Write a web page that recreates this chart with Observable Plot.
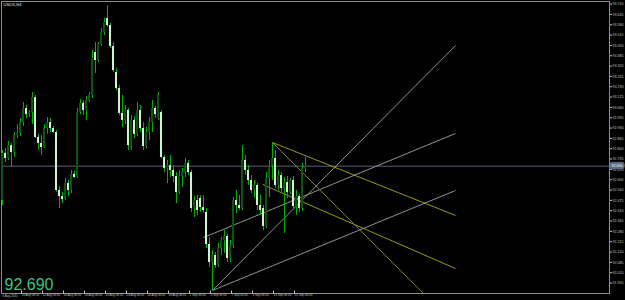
<!DOCTYPE html>
<html><head><meta charset="utf-8">
<script src="https://cdn.jsdelivr.net/npm/d3@7"></script>
<script src="https://cdn.jsdelivr.net/npm/@observablehq/plot@0.6"></script>
<style>html,body{margin:0;padding:0;background:#000;overflow:hidden}#chart{width:625px;height:300px}</style>
</head><body><div id="chart"></div>
<script>
const symbolTitle = "USDX,H4";
const lastPrice = 92.690;

const opens = [92.474,92.770,92.738,92.820,92.776,92.883,92.896,92.965,93.053,93.015,
93.028,93.122,92.871,92.833,92.808,92.927,92.965,92.927,92.902,92.537,
92.499,92.480,92.581,92.537,92.638,92.619,93.028,93.085,93.041,93.103,
93.135,93.405,93.355,93.456,93.531,93.619,93.575,93.443,93.280,93.179,
93.022,92.978,93.041,92.820,92.978,92.890,93.041,92.927,92.814,92.902,
92.965,93.053,92.990,93.028,92.745,92.676,92.694,92.663,92.625,92.525,
92.625,92.650,92.707,92.650,92.424,92.474,92.487,92.430,92.399,92.197,
92.084,92.128,92.065,92.172,92.222,92.248,92.109,92.191,92.474,92.443,
92.424,92.726,92.663,92.600,92.537,92.569,92.443,92.424,92.311,92.613,
92.694,92.738,92.569,92.631,92.550,92.587,92.525,92.600,92.436,92.499,
92.424,92.676];
const highs = [92.789,92.801,92.845,92.833,92.902,92.952,92.990,93.091,93.072,93.041,
93.154,93.135,92.890,92.883,92.952,92.996,92.990,92.940,92.915,92.562,
92.525,92.613,92.600,92.663,92.657,93.053,93.110,93.103,93.129,93.154,
93.418,93.468,93.468,93.556,93.619,93.701,93.588,93.468,93.305,93.198,
93.135,93.072,93.053,93.009,93.003,93.091,93.072,92.965,92.934,92.996,
93.103,93.066,93.154,93.041,92.757,92.726,92.757,92.694,92.650,92.663,
92.676,92.738,92.726,92.663,92.499,92.506,92.506,92.506,92.424,92.241,
92.160,92.147,92.204,92.241,92.285,92.260,92.222,92.493,92.537,92.506,
92.820,92.757,92.694,92.631,92.600,92.581,92.506,92.443,92.650,92.726,
92.839,92.789,92.663,92.650,92.619,92.625,92.613,92.625,92.537,92.512,
92.707,92.745];
const lows = [92.443,92.713,92.726,92.682,92.745,92.864,92.877,92.940,92.990,92.996,
92.952,92.864,92.789,92.757,92.801,92.890,92.902,92.896,92.525,92.424,
92.455,92.474,92.499,92.518,92.613,92.613,93.015,93.009,92.978,93.091,
93.116,93.273,93.343,93.443,93.512,93.563,93.431,93.280,93.166,93.009,
92.934,92.952,92.789,92.789,92.864,92.877,92.902,92.789,92.801,92.852,
92.902,92.990,92.978,92.738,92.650,92.581,92.619,92.587,92.455,92.512,
92.556,92.619,92.631,92.399,92.367,92.380,92.399,92.392,92.172,92.053,
91.908,92.046,92.053,92.128,92.141,92.084,92.084,92.172,92.392,92.411,
92.411,92.631,92.569,92.518,92.487,92.411,92.386,92.285,92.298,92.493,
92.600,92.550,92.537,92.525,92.267,92.487,92.512,92.411,92.380,92.399,
92.405,92.650];
const closes = [92.770,92.738,92.820,92.776,92.883,92.896,92.965,93.053,93.015,93.028,
93.122,92.871,92.833,92.808,92.927,92.965,92.927,92.902,92.537,92.499,
92.480,92.581,92.537,92.638,92.619,93.028,93.085,93.041,93.103,93.135,
93.368,93.355,93.456,93.531,93.594,93.575,93.443,93.292,93.179,93.022,
92.978,93.041,92.820,92.978,92.890,93.041,92.927,92.814,92.902,92.965,
93.053,93.015,93.135,92.745,92.676,92.694,92.663,92.625,92.525,92.625,
92.650,92.707,92.650,92.424,92.474,92.411,92.430,92.411,92.197,92.084,
92.128,92.065,92.172,92.222,92.248,92.109,92.191,92.474,92.443,92.424,
92.726,92.663,92.600,92.537,92.569,92.443,92.411,92.311,92.613,92.694,
92.738,92.569,92.631,92.550,92.587,92.525,92.600,92.436,92.499,92.424,
92.676,92.690];

const yTicks = [93.710,93.645,93.580,93.515,93.450,93.385,93.320,93.255,93.190,93.125,
93.060,92.995,92.930,92.865,92.800,92.735,92.670,92.605,92.540,92.475,
92.410,92.345,92.280,92.215,92.150,92.085,92.020,91.955];

const firstLabel = "6 Aug 2021";
const xTickIdx = [6,13,20,27,34,41,48,55,62,69,76,83,90,97];
const xTickText = ["10 Aug 08:00","12 Aug 08:00","16 Aug 08:00","18 Aug 08:00","20 Aug 08:00",
"24 Aug 08:00","26 Aug 08:00","30 Aug 08:00","1 Sep 08:00","3 Sep 08:00",
"7 Sep 08:00","9 Sep 08:00","13 Sep 08:00","15 Sep 08:00"];

// drawn objects: start bar, start price, end bar, end price
const lineKind = ["fan","fan","fan","channel","channel","ray"];
const lineX1 = [70, 70, 67, 90, 86.7, 90];
const lineP1 = [91.908, 91.908, 92.241, 92.839, 92.575, 92.839];
const lineX2 = [151, 151, 151, 151, 151, 140.3];
const lineP2 = [93.449, 92.537, 92.896, 92.380, 92.046, 91.889];

const bars = opens.map((o, i) => ({i, o, h: highs[i], l: lows[i], c: closes[i]}));
const lines = lineKind.map((k, j) => ({k, x1: lineX1[j], y1: lineP1[j], x2: lineX2[j], y2: lineP2[j]}));
const lineColor = {fan: "#b4b4b4", channel: "#c2c000", ray: "#9aa030"};

const chart = Plot.plot({
  width: 625, height: 300,
  marginLeft: 1, marginRight: 16, marginTop: 1, marginBottom: 7,
  style: {background: "#000", color: "#b8b8b8", fontFamily: "Liberation Sans, Arial, sans-serif"},
  x: {domain: [-1/3, 202 + 1/3], axis: null},
  y: {domain: [91.889, 93.7263]},
  marks: [
    Plot.frame({stroke: "#8c8c8c"}),
    Plot.ruleY([lastPrice], {stroke: "#59627a"}),
    Plot.link(lines, {x1: "x1", y1: "y1", x2: "x2", y2: "y2", stroke: d => lineColor[d.k], strokeWidth: 0.8, clip: true}),
    Plot.ruleX(bars, {x: "i", y1: "l", y2: "h", stroke: "#00b000", strokeWidth: 1}),
    Plot.rect(bars, {x1: d => d.i - 0.34, x2: d => d.i + 0.34, y1: "o", y2: "c",
      fill: d => d.c >= d.o ? "#0b560b" : "#c9f7c9"}),
    Plot.axisY({anchor: "right", ticks: yTicks, tickFormat: d => d.toFixed(3), tickSize: 2, tickPadding: 1, fontSize: 3.6, color: "#c0c0c0"}),
    Plot.axisX({anchor: "bottom", ticks: xTickIdx, tickFormat: d => xTickText[xTickIdx.indexOf(d)],
      tickSize: 3, tickPadding: 0, textAnchor: "start", dx: 1, dy: -2.5, fontSize: 3, color: "#c0c0c0"}),
    Plot.text([firstLabel], {frameAnchor: "bottom-left", dx: 1, dy: 1, lineAnchor: "top", textAnchor: "start", fontSize: 3, fill: "#c0c0c0"}),
    Plot.text([lastPrice], {y: d => d, frameAnchor: "right", dx: 2, textAnchor: "start", text: d => d.toFixed(3),
      fontSize: 3.6, fill: "#ffffff", stroke: "#5d6c86", strokeWidth: 4.5}),
    Plot.text([symbolTitle], {frameAnchor: "top-left", dx: 2, dy: 2, lineAnchor: "top", textAnchor: "start", fontSize: 4.2, fill: "#e0e0e0"}),
    Plot.text([lastPrice], {frameAnchor: "bottom-left", text: d => d.toFixed(3), dx: 3, dy: -4, lineAnchor: "bottom",
      textAnchor: "start", fontSize: 16, fill: "#3cc47c"})
  ]
});
document.getElementById("chart").appendChild(chart);
</script>
</body></html>
